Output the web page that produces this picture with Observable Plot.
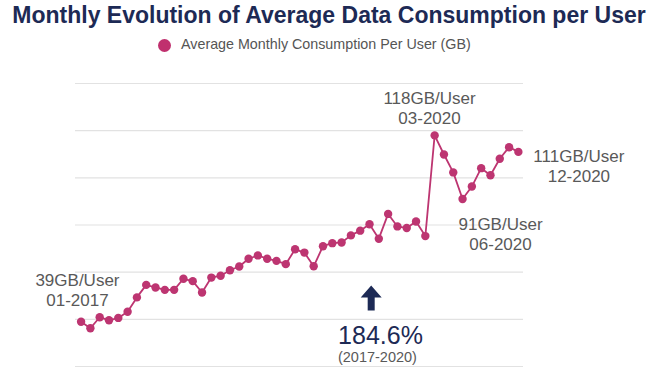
<!DOCTYPE html>
<html>
<head>
<meta charset="utf-8">
<script src="https://cdn.jsdelivr.net/npm/d3@7"></script>
<script src="https://cdn.jsdelivr.net/npm/@observablehq/plot@0.6"></script>
<style>
  html, body { margin: 0; padding: 0; background: #fff; }
  body { width: 663px; height: 379px; overflow: hidden; font-family: "Liberation Sans", Arial, sans-serif; }
  #title { height: 30px; line-height: 30px; width: 658px; text-align: center; font-size: 23px; font-weight: bold; color: #1d2a55; white-space: nowrap; }
  #legend { height: 28px; line-height: 28px; font-size: 14.3px; color: #555; position: relative; white-space: nowrap; }
  #legend .sw { position: absolute; left: 158px; top: 8.5px; width: 13px; height: 13px; border-radius: 50%; background: #c0306e; }
  #legend .lb { position: absolute; left: 181px; top: 0; }
  #chart svg { display: block; }
</style>
</head>
<body>
<div id="title">Monthly Evolution of Average Data Consumption per User</div>
<div id="legend"><span class="sw"></span><span class="lb">Average Monthly Consumption Per User (GB)</span></div>
<div id="chart"></div>
<script>
// Months 01-2017 .. 12-2020
const months = [];
for (const yr of [2017, 2018, 2019, 2020]) for (let m = 1; m <= 12; m++) months.push(String(m).padStart(2, "0") + "-" + yr);

// Average monthly consumption per user (GB)
const consumption = [
  39, 36.2, 40.9, 39.6, 40.6, 43.2, 49.3, 54.6, 53.5, 52.5, 52.5, 57.2,
  56.2, 51.4, 57.7, 58.5, 60.8, 62.4, 65.7, 67.1, 65.7, 64.8, 63.4, 69.7,
  68.3, 62.5, 71.0, 72.3, 72.6, 75.6, 77.6, 80.3, 74.2, 84.7, 79.4, 78.7,
  81.5, 75.3, 118, 109.9, 102.3, 91, 96.3, 104.1, 101.1, 108.1, 113, 111
];

const gridValues = [20, 40, 60, 80, 100, 120, 140];

// Callout labels (x in month index, y in GB, baseline of last line)
const calloutText = ["39GB/User\n01-2017", "118GB/User\n03-2020", "111GB/User\n12-2020", "91GB/User\n06-2020"];
const calloutX = [-0.39, 37.45, 53.5, 45.08];
const calloutY = [45.57, 122.9, 98.15, 69.19];

const growthText = ["184.6%"];
const periodText = ["(2017-2020)"];
const growthX = [32.18], growthY = [29.33];
const periodX = [31.85], periodY = [21.82];
const arrowX = [31.18], arrowY = [49.05];

const data = consumption.map((v, i) => ({i, month: months[i], v}));

const arrowSymbol = {
  draw(ctx, size) {
    const s = Math.sqrt(size / Math.PI) / 10;
    ctx.moveTo(0, -12.5 * s);
    ctx.lineTo(10.5 * s, -0.5 * s);
    ctx.lineTo(3.5 * s, -0.5 * s);
    ctx.lineTo(3.5 * s, 12.5 * s);
    ctx.lineTo(-3.5 * s, 12.5 * s);
    ctx.lineTo(-3.5 * s, -0.5 * s);
    ctx.lineTo(-10.5 * s, -0.5 * s);
    ctx.closePath();
  }
};

const lineColor = "#bd3571";
const navy = "#1d2a55";
const grey = "#595959";
const font = "Liberation Sans, Arial, sans-serif";

const chart = Plot.plot({
  width: 663,
  height: 321,
  marginLeft: 75,
  marginRight: 140,
  marginTop: 25,
  marginBottom: 13,
  style: {fontFamily: font, background: "#fff"},
  x: {domain: [-0.6, 47.55], axis: null},
  y: {domain: [20, 140], axis: null},
  marks: [
    Plot.ruleY(gridValues, {stroke: "#e2e2e2", strokeWidth: 1.2}),
    Plot.line(data, {x: "i", y: "v", stroke: lineColor, strokeWidth: 1.8}),
    Plot.dot(data, {x: "i", y: "v", r: 4.2, fill: lineColor, stroke: "none"}),
    Plot.text(calloutText, {x: (d, k) => calloutX[k], y: (d, k) => calloutY[k], text: d => d,
      lineAnchor: "bottom", lineHeight: 1.18, fontSize: 17, fill: grey, textAnchor: "middle"}),
    Plot.dot(arrowX, {x: d => d, y: (d, k) => arrowY[k], r: 10, symbol: arrowSymbol, fill: navy, stroke: "none"}),
    Plot.text(growthText, {x: (d, k) => growthX[k], y: (d, k) => growthY[k], text: d => d,
      lineAnchor: "bottom", fontSize: 25, fill: navy, textAnchor: "middle"}),
    Plot.text(periodText, {x: (d, k) => periodX[k], y: (d, k) => periodY[k], text: d => d,
      lineAnchor: "bottom", fontSize: 14.5, fill: grey, textAnchor: "middle"})
  ]
});
document.getElementById("chart").appendChild(chart);
</script>
</body>
</html>
